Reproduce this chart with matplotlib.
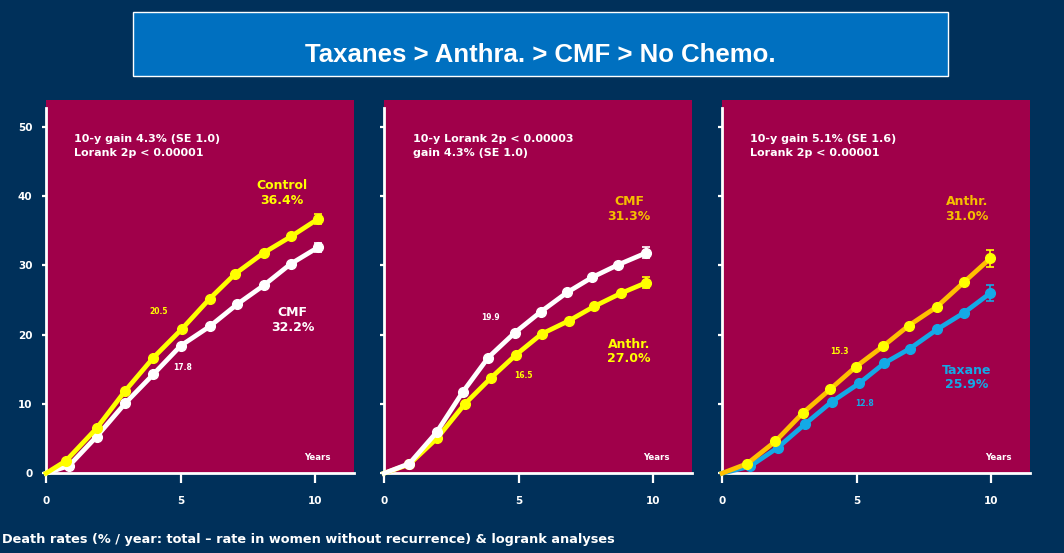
import matplotlib
matplotlib.use('Agg')
import matplotlib.pyplot as plt
from matplotlib import font_manager
from matplotlib.patches import Rectangle

# ---------------- data ----------------
x_ticks = [0, 5, 10]
y_ticks = [0, 10, 20, 30, 40, 50]

p1_control_x = [0, 0.74, 1.88, 2.94, 3.99, 5.04, 6.08, 7.03, 8.08, 9.11, 10.1]
p1_control_y = [0, 1.8, 6.5, 11.9, 16.7, 20.8, 25.2, 28.8, 31.8, 34.2, 36.7]
p1_cmf_x = [0, 0.86, 1.88, 2.94, 3.99, 5.0, 6.08, 7.1, 8.08, 9.08, 10.1]
p1_cmf_y = [0, 1.1, 5.3, 10.1, 14.3, 18.4, 21.2, 24.4, 27.1, 30.2, 32.6]
p1_err = [0.75, 0.7]

p2_cmf_x = [0, 0.94, 1.95, 2.92, 3.87, 4.86, 5.82, 6.8, 7.74, 8.7, 9.73]
p2_cmf_y = [0, 1.4, 5.9, 11.7, 16.7, 20.3, 23.3, 26.1, 28.3, 30.1, 31.8]
p2_anth_x = [0, 0.94, 1.98, 3.0, 3.98, 4.9, 5.85, 6.86, 7.81, 8.81, 9.73]
p2_anth_y = [0, 1.3, 5.1, 10.0, 13.8, 17.1, 20.1, 22.0, 24.1, 26.0, 27.5]
p2_err = [0.8, 0.8]

p3_anth_x = [0, 0.94, 1.98, 3.0, 4.01, 4.98, 5.97, 6.93, 7.97, 8.99, 9.96]
p3_anth_y = [0, 1.4, 4.6, 8.7, 12.1, 15.4, 18.3, 21.3, 24.0, 27.6, 31.0]
p3_tax_x = [0, 1.04, 2.07, 3.08, 4.07, 5.1, 6.03, 6.98, 8.0, 9.0, 9.96]
p3_tax_y = [0, 1.0, 3.7, 7.1, 10.3, 13.0, 15.9, 18.0, 20.8, 23.2, 26.0]
p3_err = [1.2, 1.15]

title = "Taxanes > Anthra. > CMF > No Chemo."
footer = "Death rates (% / year: total \u2013 rate in women without recurrence) & logrank analyses"

# ---------------- style ----------------
W, H = 1064, 553
BG = '#00305A'
PANEL = '#A0004A'
BOX = '#0070C0'
YEL = '#FFFF00'
GOLD = '#FFC000'
GOLDTXT = '#F5BE00'
WHITE = '#FFFFFF'
BLUE = '#14A9E6'

names = {f.name for f in font_manager.fontManager.ttflist}
title_font = 'Liberation Sans Narrow' if 'Liberation Sans Narrow' in names else 'Liberation Sans'
plt.rcParams['font.family'] = ['DejaVu Sans']

fig = plt.figure(figsize=(W / 100, H / 100), dpi=100, facecolor=BG)

def fpx(x, y):
    return x / W, 1 - y / H

# title box
bx0, by0, bx1, by1 = 133, 12, 948, 76
fig.patches.append(Rectangle(fpx(bx0, by1), (bx1 - bx0) / W, (by1 - by0) / H,
                             transform=fig.transFigure, facecolor=BOX,
                             edgecolor=WHITE, linewidth=1.0, zorder=0))
fig.text(*fpx(540.5, 55), title, ha='center', va='center', color=WHITE,
         fontsize=18.5, fontweight='bold', family=title_font,
         stretch='condensed')

PX_X = 26.93
PX_Y = 6.93
Y0 = 473.3
XMAX = 11.45
YMAX = 53.9
lefts = [46, 384, 722]

def make_ax(i):
    l = lefts[i]
    ax = fig.add_axes([l / W, 1 - Y0 / H, XMAX * PX_X / W, YMAX * PX_Y / H])
    ax.set_facecolor(PANEL)
    ax.set_xlim(0, XMAX)
    ax.set_ylim(0, YMAX)
    for s in ['top', 'right']:
        ax.spines[s].set_visible(False)
    for s in ['left', 'bottom']:
        ax.spines[s].set_color(WHITE)
        ax.spines[s].set_linewidth(2)
    ax.spines['left'].set_bounds(0, 52.7)
    ax.set_xticks(x_ticks)
    ax.set_yticks(y_ticks)
    ax.tick_params(axis='x', direction='out', length=7.5, width=1.6,
                   colors=WHITE, pad=9, labelsize=7.5)
    ax.tick_params(axis='y', direction='out', length=3.2, width=1.6,
                   colors=WHITE, pad=6.5, labelsize=7.5,
                   labelleft=(i == 0))
    for lab in ax.get_xticklabels() + ax.get_yticklabels():
        lab.set_fontweight('bold')
    return ax

def series(ax, xs, ys, line_c, mark_c, err, z):
    ax.plot(xs, ys, color=line_c, lw=3.4, marker='o', ms=7.0,
            mfc=mark_c, mec=mark_c, markevery=list(range(1, len(xs))),
            solid_joinstyle='round', zorder=z, clip_on=False)
    ax.errorbar([xs[-1]], [ys[-1]], yerr=[err], fmt='none', ecolor=mark_c,
                elinewidth=1.2, capsize=3, capthick=1.2, zorder=z + 1)

ax1 = make_ax(0)
series(ax1, p1_cmf_x, p1_cmf_y, WHITE, WHITE, p1_err[1], 3)
series(ax1, p1_control_x, p1_control_y, YEL, YEL, p1_err[0], 4)

ax2 = make_ax(1)
series(ax2, p2_anth_x, p2_anth_y, YEL, YEL, p2_err[1], 3)
series(ax2, p2_cmf_x, p2_cmf_y, WHITE, WHITE, p2_err[0], 4)

ax3 = make_ax(2)
series(ax3, p3_tax_x, p3_tax_y, BLUE, BLUE, p3_err[1], 3)
series(ax3, p3_anth_x, p3_anth_y, GOLD, YEL, p3_err[0], 4)

def t(x, y, s, c=WHITE, size=9, ha='center', weight='bold'):
    fig.text(*fpx(x, y), s, color=c, fontsize=size, ha=ha, va='center',
             fontweight=weight)

NOTE = 8.0
# panel 1 texts
t(74, 139.3, "10-y gain 4.3% (SE 1.0)", size=NOTE, ha='left')
t(74, 152.7, "Lorank 2p < 0.00001", size=NOTE, ha='left')
t(281.7, 185.7, "Control", YEL)
t(281.7, 200.5, "36.4%", YEL)
t(292.7, 312, "CMF", WHITE)
t(292.7, 327.5, "32.2%", WHITE)
t(159, 311.5, "20.5", YEL, size=5.5)
t(183, 367, "17.8", WHITE, size=5.5)
t(317.7, 457.7, "Years", WHITE, size=6.2)

# panel 2 texts
t(412.7, 139.3, "10-y Lorank 2p < 0.00003", size=NOTE, ha='left')
t(412.7, 152.7, "gain 4.3% (SE 1.0)", size=NOTE, ha='left')
t(629, 201.7, "CMF", GOLDTXT)
t(629, 217, "31.3%", GOLDTXT)
t(629, 344, "Anthr.", YEL)
t(629, 358, "27.0%", YEL)
t(490, 317.7, "19.9", WHITE, size=5.5)
t(523, 376, "16.5", YEL, size=5.5)
t(656, 457.7, "Years", WHITE, size=6.2)

# panel 3 texts
t(750, 139.3, "10-y gain 5.1% (SE 1.6)", size=NOTE, ha='left')
t(750, 152.7, "Lorank 2p < 0.00001", size=NOTE, ha='left')
t(967, 201.7, "Anthr.", GOLDTXT)
t(967, 217, "31.0%", GOLDTXT)
t(967, 370, "Taxane", BLUE)
t(967, 385, "25.9%", BLUE)
t(839, 351, "15.3", YEL, size=5.5)
t(865, 404, "12.8", BLUE, size=5.5)
t(998.7, 457.7, "Years", WHITE, size=6.2)

# footer
t(2, 539, footer, WHITE, size=9.3, ha='left')

fig.savefig('out.png', dpi=100, facecolor=BG)
